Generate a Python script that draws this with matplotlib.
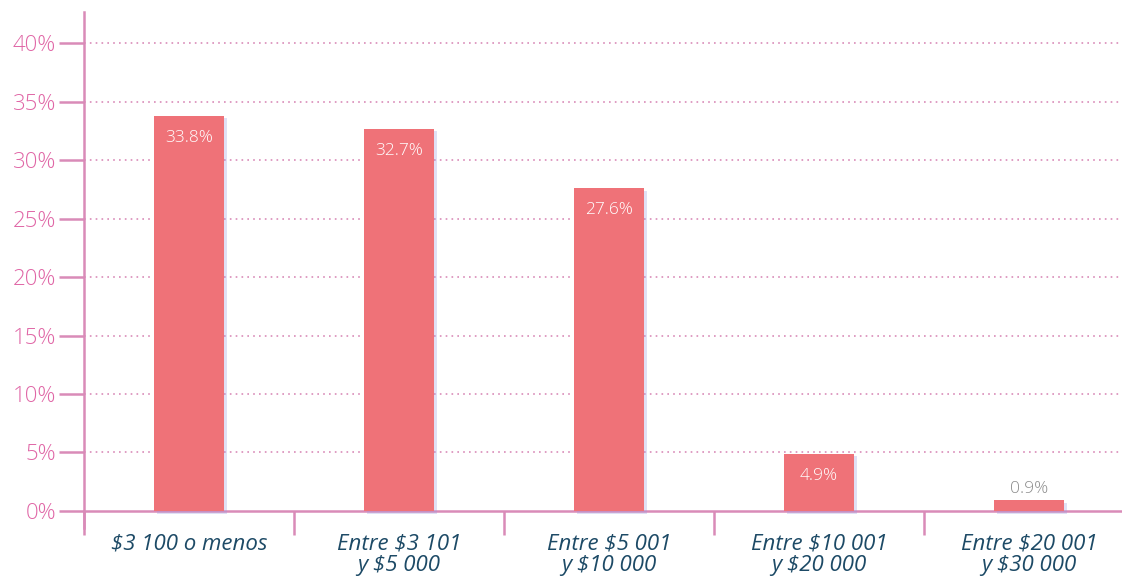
import matplotlib.pyplot as plt
import matplotlib.patheffects as pe
import numpy as np

categories = ["$3 100 o menos", "Entre $3 101\ny $5 000", "Entre $5 001\ny $10 000",
              "Entre $10 001\ny $20 000", "Entre $20 001\ny $30 000"]
values = [33.8, 32.7, 27.6, 4.9, 0.9]
yticks = [0, 5, 10, 15, 20, 25, 30, 35, 40]

bar_color = "#ef7278"
axis_color = "#d98bb8"
ylabel_color = "#e066a6"
xlabel_color = "#1d4a66"

fig = plt.figure(figsize=(11.22, 5.79), dpi=100)
ax = fig.add_axes([0.0749, 0.088, 0.9251, 0.892])

x = np.arange(len(values))
bars = ax.bar(x, values, width=0.333, color=bar_color, zorder=3)
for b in bars:
    b.set_path_effects([pe.SimplePatchShadow(offset=(2, -2), shadow_rgbFace="#9a9ae0", alpha=0.3),
                        pe.Normal()])

for y in yticks[1:]:
    ax.axhline(y, color=axis_color, lw=1.2, ls=(0, (1, 2.5)), zorder=1)

for xi, v in zip(x, values):
    if v > 3:
        ax.text(xi, v - 1.9, f"{v}%", ha="center", va="center", color="white",
                fontsize=12.5, family="Open Sans", fontweight="light", zorder=4)
    else:
        ax.text(xi, v + 0.3, f"{v}%", ha="center", va="bottom", color="#8c8c8c",
                fontsize=12.5, family="Open Sans", fontweight="light", zorder=4)

for s in ["top", "right"]:
    ax.spines[s].set_visible(False)
ax.spines["bottom"].set_position(("data", 0))
ax.spines["bottom"].set_color(axis_color)
ax.spines["left"].set_color(axis_color)
ax.spines["bottom"].set_linewidth(1.8)
ax.spines["left"].set_linewidth(1.8)

ax.set_yticks(yticks)
ax.set_yticklabels([f"{t}%" for t in yticks], color=ylabel_color, fontsize=16,
                   family="Open Sans", fontweight="light")
ax.tick_params(axis="y", length=18, width=1.8, color=axis_color, pad=2)

ax.set_xticks(np.arange(-0.5, 4.6, 1))
ax.set_xticklabels([])
ax.set_xticks(x, minor=True)
ax.set_xticklabels(categories, minor=True, color=xlabel_color, fontsize=16,
                   family="Open Sans", style="italic", linespacing=1.05)
ax.tick_params(axis="x", which="major", direction="out", length=17, width=1.8, color=axis_color)
ax.tick_params(axis="x", which="minor", length=0, pad=16)
for lbl in ax.get_xticklabels(minor=True):
    lbl.set_va("top")

ax.set_xlim(-0.5, 4.443)
ax.set_ylim(-1.46, 42.7)

fig.savefig("out.png", dpi=100)
